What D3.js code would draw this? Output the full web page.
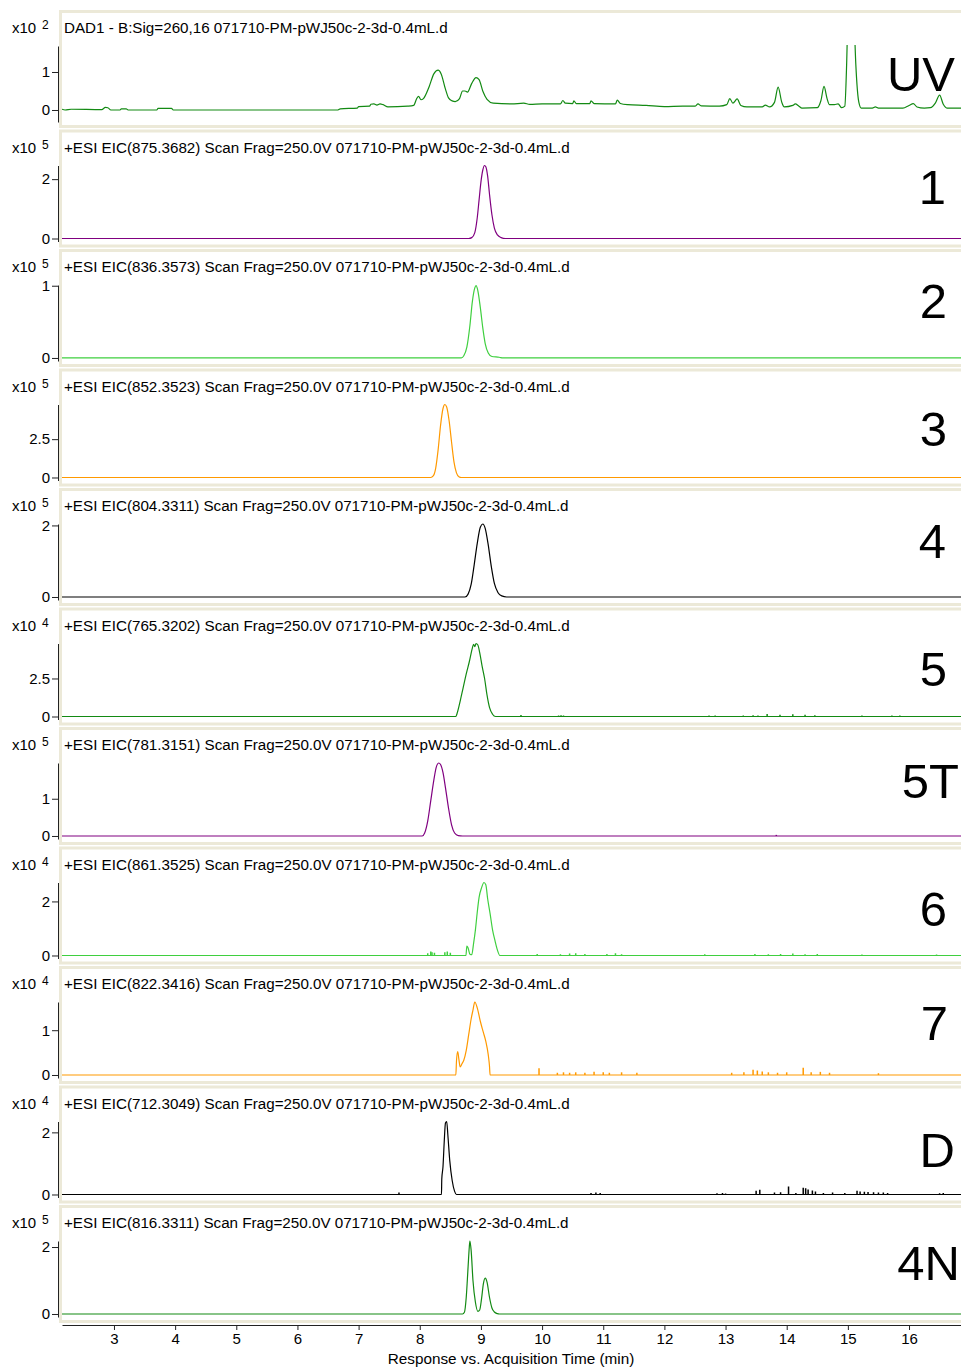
<!DOCTYPE html>
<html>
<head>
<meta charset="utf-8">
<script src="https://cdn.jsdelivr.net/npm/d3@7"></script>
<style>
  body { margin: 0; background: #fff; }
  svg { display: block; }
  text { font-family: "Liberation Sans", Arial, Helvetica, sans-serif; fill: #000; }
</style>
</head>
<body>
<svg id="chart" width="961" height="1369"></svg>
<script>
// ---- chromatogram data: time (min), response (in units of the panel exponent) ----
const panelNames = ["UV", "1", "2", "3", "4", "5", "5T", "6", "7", "D", "4N"];
const panelTitles = [
  "DAD1 - B:Sig=260,16 071710-PM-pWJ50c-2-3d-0.4mL.d",
  "+ESI EIC(875.3682) Scan Frag=250.0V 071710-PM-pWJ50c-2-3d-0.4mL.d",
  "+ESI EIC(836.3573) Scan Frag=250.0V 071710-PM-pWJ50c-2-3d-0.4mL.d",
  "+ESI EIC(852.3523) Scan Frag=250.0V 071710-PM-pWJ50c-2-3d-0.4mL.d",
  "+ESI EIC(804.3311) Scan Frag=250.0V 071710-PM-pWJ50c-2-3d-0.4mL.d",
  "+ESI EIC(765.3202) Scan Frag=250.0V 071710-PM-pWJ50c-2-3d-0.4mL.d",
  "+ESI EIC(781.3151) Scan Frag=250.0V 071710-PM-pWJ50c-2-3d-0.4mL.d",
  "+ESI EIC(861.3525) Scan Frag=250.0V 071710-PM-pWJ50c-2-3d-0.4mL.d",
  "+ESI EIC(822.3416) Scan Frag=250.0V 071710-PM-pWJ50c-2-3d-0.4mL.d",
  "+ESI EIC(712.3049) Scan Frag=250.0V 071710-PM-pWJ50c-2-3d-0.4mL.d",
  "+ESI EIC(816.3311) Scan Frag=250.0V 071710-PM-pWJ50c-2-3d-0.4mL.d"
];
const exponents = [2, 5, 5, 5, 5, 4, 5, 4, 4, 4, 5];
const yTicks = [[0, 1], [0, 2], [0, 1], [0, 2.5], [0, 2], [0, 2.5], [0, 1], [0, 2], [0, 1], [0, 2], [0, 2]];
const yMax = [1.684, 2.46, 1.01, 4.76, 2.04, 4.8, 1.96, 2.7, 1.63, 2.35, 2.18];
const yMin = [-0.316, -0.101, -0.042, -0.196, -0.084, -0.197, -0.081, -0.111, -0.067, -0.097, -0.09];
const timeDomain = [2.15, 16.85];
const xTicks = [3, 4, 5, 6, 7, 8, 9, 10, 11, 12, 13, 14, 15, 16];

const uvTrace = [
  [2.15,0.02],[2.2,0],[2.3,0.02],[2.8,0.01],[2.86,0.07],[2.9,0.06],[2.95,0],[3.1,0],[3.12,0.03],[3.2,0.03],[3.23,0],
  [3.7,0],[3.72,0.04],[3.94,0.04],[3.97,0],[6.65,0],[6.7,0.03],[6.98,0.05],[7.0,0.09],[7.18,0.1],[7.2,0.15],[7.25,0.16],
  [7.3,0.13],[7.35,0.16],[7.4,0.14],[7.48,0.08],[7.8,0.1],[7.9,0.12],[7.95,0.3],[7.98,0.36],[8.02,0.27],[8.06,0.3],
  [8.15,0.6],[8.23,0.95],[8.3,1.05],[8.35,0.95],[8.42,0.55],[8.47,0.32],[8.53,0.24],[8.58,0.22],[8.65,0.3],[8.7,0.5],
  [8.74,0.5],[8.78,0.47],[8.85,0.7],[8.92,0.85],[8.97,0.8],[9.03,0.5],[9.1,0.28],[9.2,0.18],[9.5,0.16],[9.7,0.18],
  [9.8,0.15],[10.0,0.16],[10.3,0.16],[10.34,0.25],[10.38,0.18],[10.5,0.17],[10.52,0.24],[10.56,0.17],[10.78,0.17],
  [10.8,0.24],[10.85,0.17],[11.2,0.16],[11.23,0.26],[11.28,0.17],[11.4,0.14],[11.7,0.12],[12.0,0.09],[12.3,0.1],
  [12.5,0.1],[12.55,0.16],[12.6,0.11],[12.9,0.1],[13.02,0.14],[13.07,0.3],[13.12,0.18],[13.19,0.29],[13.25,0.12],
  [13.35,0.08],[13.6,0.08],[13.65,0.13],[13.72,0.08],[13.8,0.2],[13.86,0.6],[13.92,0.2],[13.96,0.08],[14.1,0.12],
  [14.14,0.16],[14.2,0.1],[14.25,0.05],[14.5,0.06],[14.56,0.25],[14.61,0.62],[14.66,0.3],[14.7,0.14],[14.78,0.14],
  [14.84,0.16],[14.9,0.06],[14.95,0.1],[14.98,1.2],[15.0,2.4],[15.05,3.0],[15.1,2.4],[15.13,1.2],[15.18,0.2],[15.22,0.05],
  [15.4,0.05],[15.45,0.08],[15.5,0.05],[15.9,0.05],[16.0,0.12],[16.07,0.17],[16.13,0.08],[16.25,0.05],[16.35,0.06],
  [16.43,0.18],[16.5,0.39],[16.56,0.15],[16.62,0.05],[16.85,0.05]
];
const eic1Trace = [
  [2.15,0],[8.80,0],[8.85,0.03],[8.90,0.2],[8.94,0.7],[8.97,1.3],[9.0,1.9],[9.03,2.3],[9.06,2.46],[9.08,2.42],
  [9.11,2.1],[9.14,1.5],[9.18,0.8],[9.22,0.35],[9.27,0.12],[9.33,0.03],[9.4,0],[16.85,0]
];
const eic2Trace = [
  [2.15,0],[8.68,0],[8.72,0.03],[8.77,0.15],[8.82,0.45],[8.86,0.78],[8.90,0.97],[8.92,1.0],[8.95,0.93],[8.99,0.7],
  [9.03,0.42],[9.07,0.2],[9.12,0.07],[9.18,0.02],[9.3,0.01],[9.36,0],[16.85,0]
];
const eic3Trace = [
  [2.15,0],[8.18,0],[8.22,0.1],[8.26,0.6],[8.30,1.8],[8.34,3.4],[8.38,4.5],[8.41,4.76],[8.44,4.6],[8.48,3.7],
  [8.52,2.3],[8.56,1.0],[8.60,0.3],[8.64,0.05],[8.68,0],[16.85,0]
];
const eic4Trace = [
  [2.15,0],[8.74,0],[8.79,0.08],[8.84,0.35],[8.89,0.9],[8.94,1.5],[8.99,1.95],[9.03,2.04],[9.07,1.92],[9.12,1.45],
  [9.17,0.85],[9.22,0.38],[9.28,0.12],[9.34,0.03],[9.42,0],[16.85,0]
];
const eic5Trace = [
  [2.15,0],[8.59,0],[8.61,0.2],[8.66,1.0],[8.71,1.9],[8.76,2.8],[8.81,3.6],[8.86,4.5],[8.88,4.75],[8.90,4.6],
  [8.92,4.8],[8.95,4.7],[8.98,4.2],[9.02,3.3],[9.06,2.5],[9.10,1.4],[9.14,0.6],[9.19,0.15],[9.24,0],[16.85,0]
];
const eic5TTrace = [
  [2.15,0],[8.04,0],[8.08,0.08],[8.13,0.4],[8.18,0.95],[8.23,1.5],[8.27,1.85],[8.31,1.96],[8.34,1.92],[8.38,1.7],
  [8.42,1.3],[8.47,0.75],[8.52,0.3],[8.57,0.08],[8.63,0.01],[8.70,0],[16.85,0]
];
const eic6Trace = [
  [2.15,0],[8.755,0],[8.77,0.35],[8.79,0.28],[8.82,0.05],[8.85,0.03],[8.88,0.45],[8.91,0.95],[8.94,1.6],[8.97,2.15],
  [9.01,2.5],[9.05,2.7],[9.08,2.62],[9.11,2.1],[9.15,1.55],[9.19,0.95],[9.23,0.55],[9.27,0.2],[9.31,0],[16.85,0]
];
const eic7Trace = [
  [2.15,0],[8.59,0],[8.60,0.3],[8.62,0.52],[8.64,0.35],[8.66,0.18],[8.69,0.25],[8.72,0.33],[8.76,0.55],[8.80,0.9],
  [8.84,1.25],[8.87,1.45],[8.90,1.63],[8.94,1.5],[8.99,1.2],[9.04,0.95],[9.08,0.75],[9.12,0.45],[9.14,0.2],[9.15,0],[16.85,0]
];
const eicDTrace = [
  [2.15,0],[8.355,0],[8.36,0.5],[8.38,0.9],[8.40,1.7],[8.42,2.3],[8.44,2.35],[8.46,1.9],[8.49,1.1],[8.53,0.45],
  [8.57,0.1],[8.60,0],[16.85,0]
];
const eic4NTrace = [
  [2.15,0],[8.70,0],[8.73,0.05],[8.76,0.5],[8.79,1.4],[8.81,2.0],[8.82,2.18],[8.84,1.9],[8.87,1.0],[8.91,0.35],
  [8.95,0.08],[8.98,0.12],[9.01,0.45],[9.04,0.9],[9.07,1.07],[9.10,0.95],[9.14,0.5],[9.18,0.18],[9.22,0.06],
  [9.27,0.01],[9.3,0],[16.85,0]
];

// baseline noise spikes: [time, height]
const eic5Spikes = [
  [9.655,0.1],[10.27,0.07],[10.31,0.08],[10.35,0.06],[12.73,0.06],[12.83,0.07],[13.29,0.06],[13.45,0.08],[13.53,0.07],
  [13.68,0.16],[13.89,0.12],[14.10,0.14],[14.30,0.12],[14.46,0.08],[15.23,0.06],[15.72,0.07],[15.85,0.06]
];
const eic5TSpikes = [[13.83,0.03]];
const eic6Spikes = [
  [8.13,0.08],[8.18,0.15],[8.2,0.12],[8.24,0.1],[8.41,0.12],[8.45,0.15],[8.5,0.1],[9.92,0.06],[10.3,0.05],[10.45,0.07],
  [10.55,0.08],[10.7,0.06],[11.06,0.06],[11.2,0.08],[11.3,0.05],[12.66,0.05],[13.48,0.06],[13.7,0.05],[13.9,0.06],
  [14.1,0.07],[14.3,0.05],[14.5,0.06],[15.23,0.04],[16.45,0.04]
];
const eic7Spikes = [
  [9.95,0.15],[10.25,0.05],[10.35,0.06],[10.45,0.05],[10.55,0.06],[10.7,0.05],[10.85,0.07],[11.0,0.06],[11.1,0.05],
  [11.3,0.06],[11.55,0.05],[13.1,0.05],[13.3,0.06],[13.45,0.12],[13.52,0.1],[13.6,0.08],[13.7,0.06],[13.85,0.05],
  [14.0,0.06],[14.27,0.16],[14.4,0.06],[14.55,0.07],[14.7,0.05],[15.5,0.04]
];
const eicDSpikes = [
  [7.66,0.06],[10.80,0.05],[10.88,0.06],[10.95,0.05],[12.86,0.04],[12.95,0.05],[13.0,0.03],[13.5,0.12],[13.56,0.15],
  [13.8,0.06],[13.9,0.07],[14.03,0.26],[14.15,0.05],[14.27,0.22],[14.31,0.2],[14.35,0.16],[14.42,0.13],[14.47,0.1],
  [14.6,0.05],[14.75,0.06],[14.95,0.05],[15.15,0.12],[15.2,0.1],[15.27,0.09],[15.33,0.08],[15.42,0.07],[15.5,0.06],
  [15.58,0.06],[15.65,0.05],[16.5,0.04],[16.56,0.05]
];

const traces = [uvTrace, eic1Trace, eic2Trace, eic3Trace, eic4Trace, eic5Trace, eic5TTrace, eic6Trace, eic7Trace, eicDTrace, eic4NTrace];
const spikes = [[], [], [], [], [], eic5Spikes, eic5TSpikes, eic6Spikes, eic7Spikes, eicDSpikes, []];

// ---- presentation ----
const traceColors = ["#138a13", "#800080", "#3fcf3f", "#ff9900", "#000000", "#138a13", "#800080", "#3fcf3f", "#ff9900", "#000000", "#138a13"];
const tagAnchorX = [955, 946, 947, 947, 946, 947, 959, 947, 948, 955, 960];
const tagBaseline = [81, 74.5, 69, 77.5, 70, 78, 71, 79.5, 74, 81.5, 75];

const svg = d3.select("#chart");
const plotLeft = 62, plotRight = 961;
const firstTop = 10, panelStep = 119.5;
const x = d3.scaleLinear().domain(timeDomain).range([plotLeft, plotRight]);

panelNames.forEach((name, i) => {
  const top = firstTop + i * panelStep;
  const g = svg.append("g").attr("class", "panel");

  // panel frame
  g.append("rect")
    .attr("x", 60.5).attr("y", top + 1.5)
    .attr("width", 920).attr("height", 115)
    .attr("fill", "#fff").attr("stroke", "#ece9d8").attr("stroke-width", 3);

  const y = d3.scaleLinear().domain([yMin[i], yMax[i]]).range([top + 112, top + 36]);

  const clipId = "clip" + i;
  svg.append("clipPath").attr("id", clipId).append("rect")
    .attr("x", plotLeft).attr("y", top + 35)
    .attr("width", plotRight - plotLeft).attr("height", 79);

  // header line
  g.append("text").attr("x", 64).attr("y", top + 23).attr("font-size", 15.2).text(panelTitles[i]);
  g.append("text").attr("x", 12).attr("y", top + 23).attr("font-size", 15).text("x10");
  g.append("text").attr("x", 42).attr("y", top + 19).attr("font-size", 12).text(exponents[i]);

  // y axis
  const yAxis = d3.axisLeft(y)
    .tickValues(yTicks[i])
    .tickSize(6).tickSizeOuter(0).tickPadding(2)
    .tickFormat(d => String(d));
  const ag = g.append("g").attr("transform", "translate(58,0)").call(yAxis);
  ag.select(".domain").attr("stroke", "#222");
  ag.selectAll(".tick line").attr("stroke", "#222");
  ag.selectAll(".tick text").attr("font-size", 15).attr("fill", "#000")
    .attr("font-family", '"Liberation Sans", Arial, sans-serif');

  const plot = g.append("g").attr("clip-path", `url(#${clipId})`);

  // trace
  const line = d3.line()
    .x(d => x(d[0]))
    .y(d => y(d[1]))
    .curve(d3.curveMonotoneX);
  plot.append("path")
    .datum(traces[i])
    .attr("d", line)
    .attr("fill", "none")
    .attr("stroke", traceColors[i])
    .attr("stroke-width", 1.2)
    .attr("stroke-linejoin", "round");

  // noise spikes
  plot.selectAll("line.spike")
    .data(spikes[i])
    .join("line")
    .attr("class", "spike")
    .attr("x1", d => x(d[0])).attr("x2", d => x(d[0]))
    .attr("y1", y(0)).attr("y2", d => y(d[1]))
    .attr("stroke", traceColors[i]).attr("stroke-width", 1.5);

  // compound tag
  g.append("text")
    .attr("x", tagAnchorX[i]).attr("y", top + tagBaseline[i])
    .attr("text-anchor", "end")
    .attr("font-size", 49)
    .text(name);
});

// shared time axis
const xAxis = d3.axisBottom(x).tickValues(xTicks).tickSize(5).tickSizeOuter(0).tickPadding(3);
const xg = svg.append("g").attr("transform", "translate(0,1325)").call(xAxis);
xg.select(".domain").attr("stroke", "#222");
xg.selectAll(".tick line").attr("stroke", "#222");
xg.selectAll(".tick text").attr("font-size", 15).attr("fill", "#000")
  .attr("font-family", '"Liberation Sans", Arial, sans-serif');

svg.append("text")
  .attr("x", 511).attr("y", 1364)
  .attr("text-anchor", "middle")
  .attr("font-size", 15.3)
  .text("Response vs. Acquisition Time (min)");
</script>
</body>
</html>
